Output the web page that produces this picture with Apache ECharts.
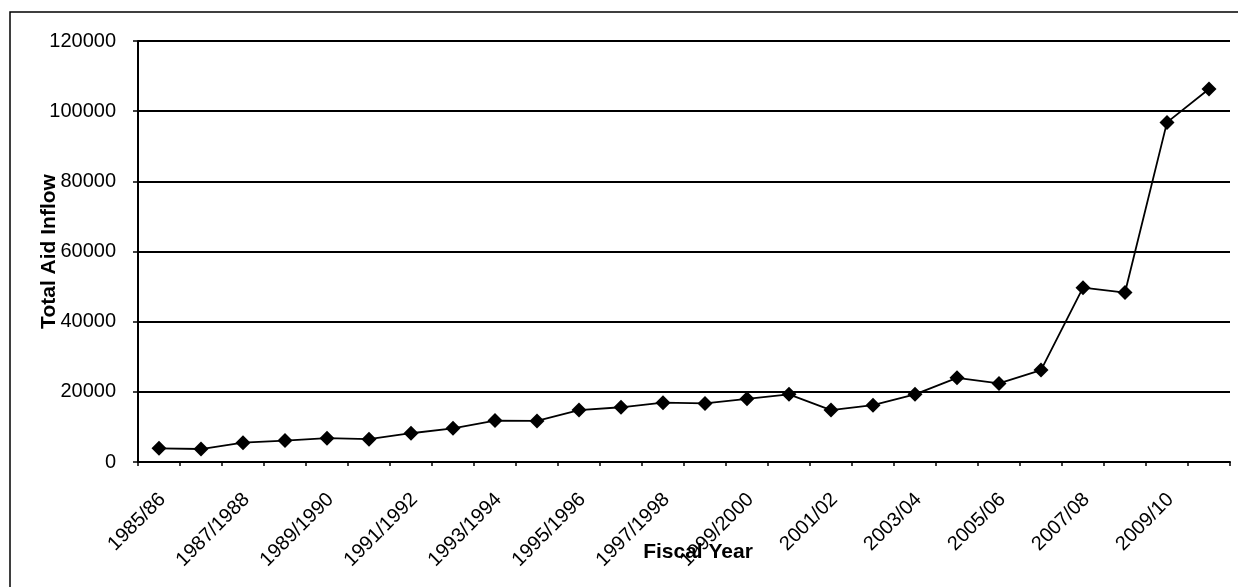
<!DOCTYPE html>
<html>
<head>
<meta charset="utf-8">
<script src="https://cdn.jsdelivr.net/npm/echarts@6/dist/echarts.min.js"></script>
<style>
html,body{margin:0;padding:0;background:#fff;}
#chart{width:1238px;height:587px;}
</style>
</head>
<body>
<div id="chart"></div>
<script>
var categories = ['1985/86','1986/87','1987/1988','1988/1989','1989/1990','1990/1991','1991/1992','1992/1993','1993/1994','1994/1995','1995/1996','1996/1997','1997/1998','1998/1999','1999/2000','2000/01','2001/02','2002/03','2003/04','2004/05','2005/06','2006/07','2007/08','2008/09','2009/10','2010/11'];
var aidValues = [3900,3700,5500,6100,6800,6500,8200,9600,11800,11700,14800,15600,16900,16700,18000,19300,14800,16200,19300,24000,22400,26200,49700,48300,96800,106300];
var yTicks = [0,20000,40000,60000,80000,100000,120000];

var chart = echarts.init(document.getElementById('chart'), null, {renderer:'canvas'});
var FONT = '"Liberation Sans", Arial, sans-serif';
chart.setOption({
  animation:false,
  backgroundColor:'#ffffff',
  graphic:[{type:'rect', shape:{x:10,y:12,width:1300,height:700}, style:{fill:'none', stroke:'#000', lineWidth:1.5}, silent:true, z:-1}],
  grid:{left:138, right:8, top:41, bottom:125, containLabel:false, outerBoundsMode:'none'},
  xAxis:{
    type:'category', data:categories, boundaryGap:true,
    name:'Fiscal Year', nameLocation:'middle', nameGap:80, nameMoveOverlap:false,
    nameTextStyle:{fontFamily:FONT, fontSize:21, fontWeight:'bold', color:'#000', verticalAlign:'top', padding:[0,0,0,28]},
    axisLine:{lineStyle:{color:'#000', width:2}},
    axisTick:{show:true, inside:false, length:4, interval:0, alignWithLabel:false, lineStyle:{color:'#000', width:1.5}},
    axisLabel:{interval:1, rotate:45, margin:38, fontFamily:FONT, fontSize:20, color:'#000', padding:[0,-5,0,0]},
    splitLine:{show:false}
  },
  yAxis:{
    type:'value', min:yTicks[0], max:yTicks[yTicks.length-1], interval:20000,
    name:'Total Aid Inflow', nameLocation:'middle', nameGap:78, nameRotate:90, nameMoveOverlap:false,
    nameTextStyle:{fontFamily:FONT, fontSize:21, fontWeight:'bold', color:'#000'},
    axisLine:{show:true, lineStyle:{color:'#000', width:2}},
    axisTick:{show:true, inside:false, length:5, lineStyle:{color:'#000', width:1.5}},
    axisLabel:{margin:22, fontFamily:FONT, fontSize:20, color:'#000', formatter:function(v){return String(v);}},
    splitLine:{show:true, lineStyle:{color:'#000', width:2}}
  },
  series:[{
    type:'line', data:aidValues, symbol:'diamond', symbolSize:15,
    lineStyle:{color:'#000', width:1.8}, itemStyle:{color:'#000'}
  }]
});
</script>
</body>
</html>
